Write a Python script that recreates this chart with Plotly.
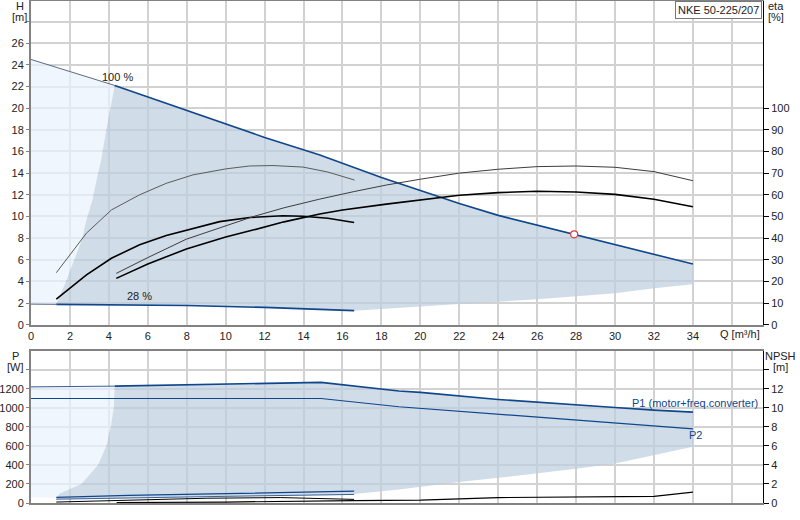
"""
Pump curve chart: NKE 50-225/207
"""
import plotly.graph_objects as go

# --- QH curves (Q in m3/h, H in m) ---
q_100 = [0, 4.3, 8, 12, 14.8, 16, 18, 20, 22, 24, 26, 28, 30, 32, 34]
h_100 = [24.5, 22.1, 19.8, 17.3, 15.7, 14.9, 13.6, 12.4, 11.2, 10.1, 9.2, 8.35, 7.45, 6.5, 5.6]
q_28 = [0, 1.3, 4, 8, 12, 16.6]
h_28 = [1.9, 1.88, 1.85, 1.77, 1.6, 1.3]

# operating range boundaries
q_lim = [1.3, 1.82, 2.24, 2.6, 2.85, 3.15, 3.44, 3.6, 3.87, 4.3]
h_lim = [1.9, 4.1, 6.0, 7.8, 9.7, 11.5, 14.0, 15.2, 18.0, 22.1]
q_low = [16.6, 18, 18.9, 22, 26, 28, 30, 32, 34]
h_low = [1.3, 1.5, 1.57, 1.91, 2.35, 2.6, 2.9, 3.36, 3.73]

# duty point
q_duty = [27.9]
h_duty = [8.35]

# --- efficiency curves (%) ---
q_eta_a = [1.3, 2.85, 4.13, 5.58, 6.95, 8.32, 10.03, 11.23, 12.43, 13.97, 15.25, 16.62]
eta_a = [24, 42.3, 53, 60, 65.3, 69.2, 72, 73.3, 73.5, 72.8, 70.5, 66.8]
q_eta_b = [1.3, 2.85, 4.13, 5.58, 6.95, 8.32, 9.69, 11.23, 12.94, 13.97, 15.25, 16.6]
eta_b = [11.8, 23, 30.7, 36.9, 41.2, 44.5, 47.6, 49.5, 50.3, 50.1, 49.2, 47.2]
q_eta_c = [4.38, 6, 7.98, 10, 11.4, 13, 14.83, 16.6, 18.25, 20, 22, 24, 26, 28, 30, 32, 34]
eta_c = [23.7, 31, 39.5, 45.5, 49.9, 54, 58, 61.5, 64.5, 67.2, 70, 71.8, 73, 73.3, 72.7, 70.7, 66.5]
q_eta_d = [4.38, 6, 7.98, 10, 11.4, 13, 14.83, 16, 18.25, 20, 22, 24, 26, 28, 30, 32, 34]
eta_d = [21.4, 28, 35, 40.5, 43.7, 47.5, 51.1, 53, 55.7, 57.7, 59.8, 61, 61.6, 61.3, 60.2, 57.9, 54.5]

# --- power curves (W) ---
q_p1 = [0, 4.3, 8, 12, 14.9, 18.9, 20, 24, 28, 30, 32, 34]
p1 = [1220, 1228, 1240, 1255, 1267, 1176, 1162, 1088, 1028, 1004, 976, 955]
q_p2 = [0, 14.9, 18.9, 20, 24, 28, 32, 34]
p2 = [1098, 1098, 1011, 994, 934, 871, 811, 779]
q_p_28 = [1.3, 5, 10, 16.6]
p1_28 = [60, 80, 98, 125]
p2_28 = [40, 55, 70, 90]

q_plim = [1.3, 1.47, 2.59, 3.44, 3.87, 4.1, 4.25, 4.3]
p_plim = [55, 99, 200, 400, 600, 800, 1000, 1228]
q_plow = [34, 32, 30, 28, 26, 24, 22, 20, 18.9, 16.6]
p_plow = [590, 502, 415, 360, 309, 265, 221, 165, 141, 95]

# --- NPSH curves (m) ---
q_npsh_28 = [1.3, 5, 9, 12.8, 16.6]
npsh_28 = [0.1, 0.3, 0.5, 0.57, 0.38]
q_npsh = [4.4, 10, 16.6, 20, 24, 28, 32, 34]
npsh = [0.05, 0.1, 0.25, 0.3, 0.57, 0.6, 0.7, 1.15]

# tick labels
q_ticks = list(range(0, 38, 2))
h_ticks = list(range(0, 30, 2))
eta_ticks = list(range(0, 110, 10))
p_ticks = list(range(0, 1600, 200))
npsh_ticks = list(range(0, 16, 2))

BLUE = "rgb(15,70,140)"
FILL = "rgba(188,205,222,0.7)"
LIGHT = "rgba(232,242,252,0.7)"
GRID = "rgb(210,210,210)"
AXIS = "rgb(130,130,130)"
FONT = "Liberation Sans, Arial, sans-serif"

W, H = 800, 520
ML, MR, MT, MB = 31, 37, 1, 17


def px(x):
    return (x - ML) / (W - ML - MR)


def py(y):
    return (H - MB - y) / (H - MT - MB)


fig = go.Figure()

# ---------- top chart fills ----------
k = q_100.index(4.3)
fig.add_trace(go.Scatter(
    x=q_100[:k + 1] + q_lim[::-1] + [0],
    y=h_100[:k + 1] + h_lim[::-1] + [h_28[0]],
    fill="toself", fillcolor=LIGHT, line=dict(width=0), mode="lines",
    hoverinfo="skip", xaxis="x", yaxis="y"))
j = q_28.index(1.3)
fig.add_trace(go.Scatter(
    x=q_100[k:] + q_low[::-1][:-1] + q_28[j:][::-1] + q_lim,
    y=h_100[k:] + h_low[::-1][:-1] + h_28[j:][::-1] + h_lim,
    fill="toself", fillcolor=FILL, line=dict(width=0), mode="lines",
    hoverinfo="skip", xaxis="x", yaxis="y"))

# ---------- top chart lines ----------
fig.add_trace(go.Scatter(x=q_100[:k + 1], y=h_100[:k + 1], mode="lines",
                         line=dict(color="rgb(90,105,140)", width=1), xaxis="x", yaxis="y"))
fig.add_trace(go.Scatter(x=q_100[k:], y=h_100[k:], mode="lines",
                         line=dict(color=BLUE, width=1.6), xaxis="x", yaxis="y"))
fig.add_trace(go.Scatter(x=q_28[:j + 1], y=h_28[:j + 1], mode="lines",
                         line=dict(color="rgb(90,105,140)", width=1), xaxis="x", yaxis="y"))
fig.add_trace(go.Scatter(x=q_28[j:], y=h_28[j:], mode="lines",
                         line=dict(color=BLUE, width=1.6), xaxis="x", yaxis="y"))

fig.add_trace(go.Scatter(x=q_eta_a, y=eta_a, mode="lines",
                         line=dict(color="rgb(90,90,90)", width=1), xaxis="x", yaxis="y2"))
fig.add_trace(go.Scatter(x=q_eta_b, y=eta_b, mode="lines",
                         line=dict(color="black", width=1.6), xaxis="x", yaxis="y2"))
fig.add_trace(go.Scatter(x=q_eta_c, y=eta_c, mode="lines",
                         line=dict(color="rgb(60,60,60)", width=1), xaxis="x", yaxis="y2"))
fig.add_trace(go.Scatter(x=q_eta_d, y=eta_d, mode="lines",
                         line=dict(color="black", width=1.6), xaxis="x", yaxis="y2"))

fig.add_trace(go.Scatter(x=q_duty, y=h_duty, mode="markers",
                         marker=dict(symbol="circle", size=7, color="white",
                                     line=dict(color="rgb(230,60,60)", width=1.2)),
                         xaxis="x", yaxis="y"))

# ---------- bottom chart fills ----------
m = q_p1.index(4.3)
fig.add_trace(go.Scatter(
    x=q_p1[:m + 1] + q_plim[::-1] + [0],
    y=p1[:m + 1] + p_plim[::-1] + [60],
    fill="toself", fillcolor=LIGHT, line=dict(width=0), mode="lines",
    hoverinfo="skip", xaxis="x2", yaxis="y3"))
fig.add_trace(go.Scatter(
    x=q_p1[m:] + q_plow + q_p_28[::-1] + q_plim,
    y=p1[m:] + p_plow + p2_28[::-1] + p_plim,
    fill="toself", fillcolor=FILL, line=dict(width=0), mode="lines",
    hoverinfo="skip", xaxis="x2", yaxis="y3"))

# ---------- bottom chart lines ----------
fig.add_trace(go.Scatter(x=q_p1[:m + 1], y=p1[:m + 1], mode="lines",
                         line=dict(color="rgb(60,95,150)", width=1), xaxis="x2", yaxis="y3"))
fig.add_trace(go.Scatter(x=q_p1[m:], y=p1[m:], mode="lines",
                         line=dict(color=BLUE, width=1.6), xaxis="x2", yaxis="y3"))
fig.add_trace(go.Scatter(x=q_p2, y=p2, mode="lines",
                         line=dict(color=BLUE, width=1.2), xaxis="x2", yaxis="y3"))
fig.add_trace(go.Scatter(x=q_p_28, y=p1_28, mode="lines",
                         line=dict(color=BLUE, width=1.3), xaxis="x2", yaxis="y3"))
fig.add_trace(go.Scatter(x=q_p_28, y=p2_28, mode="lines",
                         line=dict(color="rgb(60,95,150)", width=1), xaxis="x2", yaxis="y3"))
fig.add_trace(go.Scatter(x=q_npsh_28, y=npsh_28, mode="lines",
                         line=dict(color="black", width=1), xaxis="x2", yaxis="y4"))
fig.add_trace(go.Scatter(x=q_npsh, y=npsh, mode="lines",
                         line=dict(color="black", width=1.2), xaxis="x2", yaxis="y4"))

tick_font = dict(family=FONT, size=11, color="#222")
x_common = dict(range=[0, 37.6], showgrid=True, gridcolor=GRID, gridwidth=1.5,
                tickvals=q_ticks, showline=True, linecolor=AXIS, linewidth=2,
                mirror=True, zeroline=False, ticks="", tickfont=tick_font,
                automargin=False)
y_left = dict(showgrid=True, gridcolor=GRID, gridwidth=1.5, zeroline=False,
              showline=True, linecolor=AXIS, linewidth=2, ticks="outside",
              ticklen=3, tickcolor=AXIS, tickfont=tick_font, automargin=False)
y_right = dict(side="right", showgrid=False, zeroline=False, showline=True,
               linecolor="black", linewidth=1, ticks="outside", ticklen=5,
               tickcolor="black", tickfont=tick_font, automargin=False)

fig.update_layout(
    width=W, height=H,
    margin=dict(l=ML, r=MR, t=MT, b=MB, autoexpand=False),
    paper_bgcolor="white", plot_bgcolor="white",
    showlegend=False,
    font=dict(family=FONT, size=11, color="#222"),
    xaxis=dict(x_common, domain=[0, 1], anchor="y",
               ticktext=[str(v) for v in q_ticks[:-1]] + [""]),
    yaxis=dict(y_left, domain=[py(324.7), 1], range=[0, 29.9], tickvals=h_ticks,
               ticktext=[str(v) for v in h_ticks[:-1]] + [""], anchor="x"),
    yaxis2=dict(y_right, overlaying="y", range=[0, 149.5], tickvals=eta_ticks,
                anchor="x"),
    xaxis2=dict(x_common, domain=[0, 1], anchor="y3", showticklabels=False),
    yaxis3=dict(y_left, domain=[0, py(350.7)], range=[0, 1600], tickvals=p_ticks,
                ticktext=[str(v) for v in p_ticks[:-1]] + [""], anchor="x2"),
    yaxis4=dict(y_right, overlaying="y3", range=[0, 16], tickvals=npsh_ticks,
                ticktext=[str(v) for v in npsh_ticks[:-1]] + [""], anchor="x2"),
)


def label(text, x, y, **kw):
    fig.add_annotation(text=text, x=px(x), y=py(y), xref="paper", yref="paper",
                       showarrow=False,
                       font=dict(family=FONT, size=11, color=kw.pop("color", "#222")),
                       xanchor=kw.pop("xanchor", "center"), yanchor="middle", **kw)


label("H", 20, 6)
label("[m]", 19, 17)
label("eta", 776, 6)
label("[%]", 776, 17)
label("P", 15, 356)
label("[W]", 15, 367)
label("NPSH", 781, 356)
label("[m]", 781, 367)
label("Q [m³/h]", 740, 334)
label("100 %", 117, 77)
label("28 %", 139, 296)
label("P1 (motor+freq.converter)", 695, 403, color=BLUE)
label("P2", 695, 435, color=BLUE)

fig.add_annotation(text="NKE 50-225/207", x=px(762), y=py(1), xref="paper", yref="paper",
                   showarrow=False, xanchor="right", yanchor="top",
                   font=dict(family=FONT, size=11, color="#222"),
                   bgcolor="white", bordercolor="rgb(120,120,120)", borderwidth=1,
                   borderpad=2)

# the page's default body margin would shift the figure by 8px
fig.write_html("out.html", config={"displayModeBar": False},
               post_script="document.body.style.margin = '0';")
